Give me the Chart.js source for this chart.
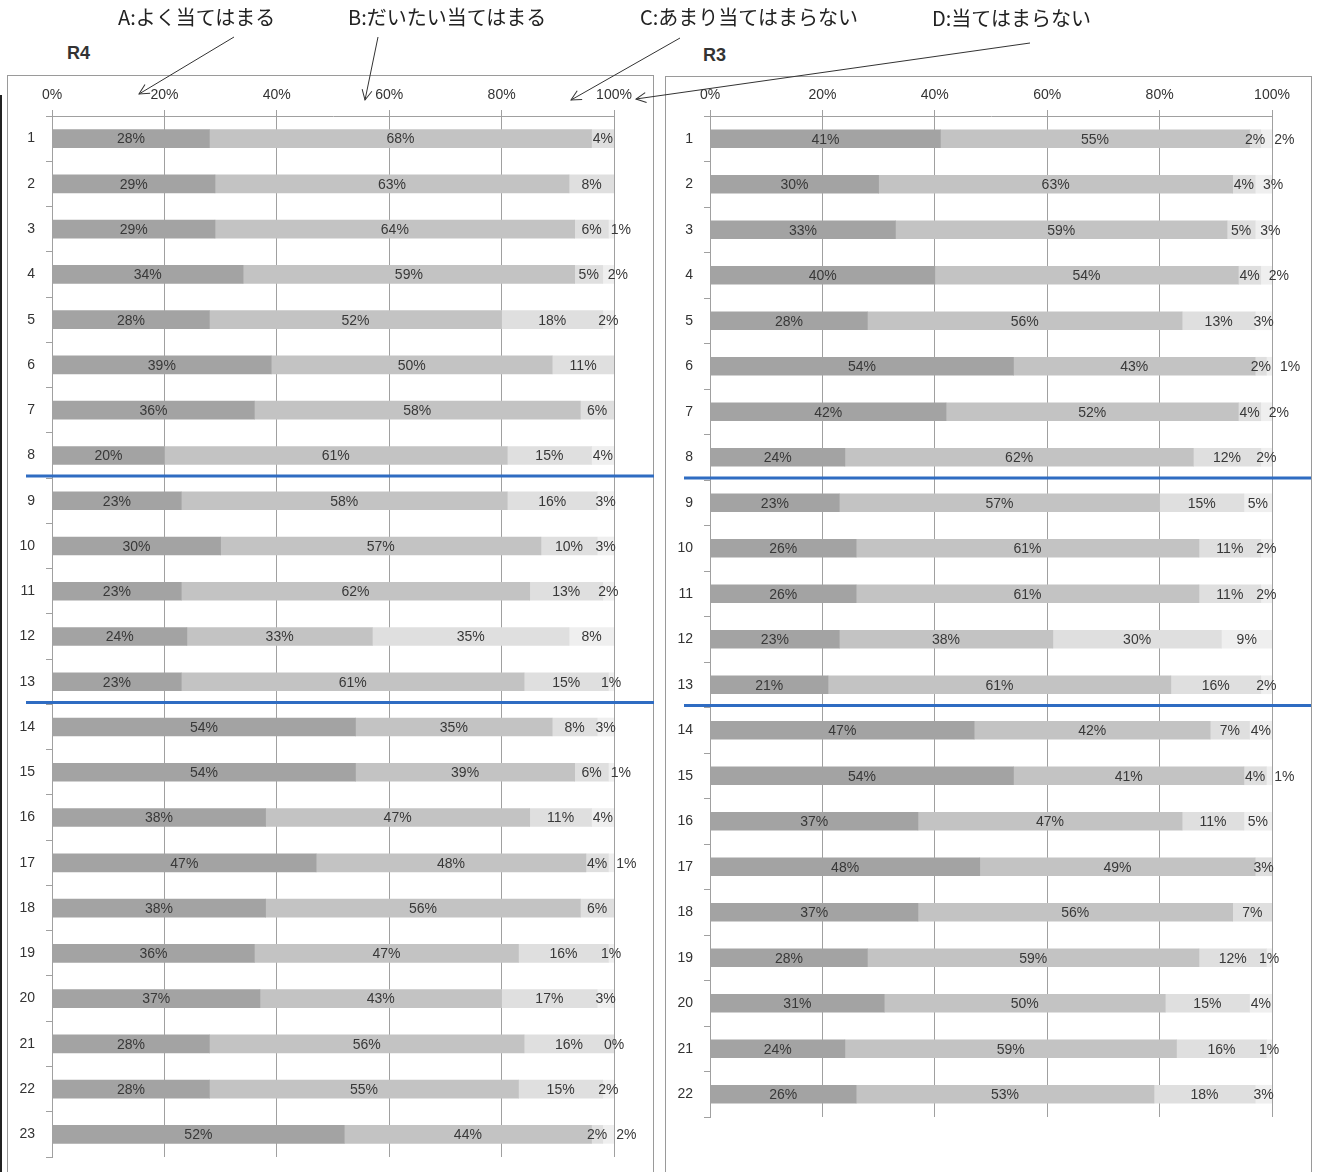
<!DOCTYPE html>
<html>
<head>
<meta charset="utf-8">
<script src="https://cdn.jsdelivr.net/npm/chart.js@4.4.1/dist/chart.umd.min.js"></script>
<style>
  body { margin: 0; background: #fff; width: 1324px; height: 1172px; position: relative; overflow: hidden; }
  .box { position: absolute; border: 1px solid #9a9a9a; }
  canvas { position: absolute; }
  .ttl { position: absolute; font: bold 18px "Liberation Sans", Arial, sans-serif; color: #333; }
  svg { position: absolute; left: 0; top: 0; }
  .edge { position: absolute; left: 0; top: 95px; width: 2px; height: 1077px; background: #222; }
</style>
</head>
<body>
<div class="edge"></div>
<div class="box" style="left:7px;top:75px;width:645px;height:1110px;"></div>
<div class="box" style="left:665px;top:76px;width:645px;height:1110px;"></div>
<div class="ttl" style="left:67px;top:43px;">R4</div>
<div class="ttl" style="left:703px;top:45px;">R3</div>
<canvas id="r4" width="652" height="1097" style="left:7px;top:75px;"></canvas>
<canvas id="r3" width="646" height="1097" style="left:665px;top:75px;"></canvas>

<svg width="1324" height="140" id="notes">
  <defs>
    <marker id="ah" markerWidth="12" markerHeight="12" refX="11" refY="6" orient="auto" markerUnits="userSpaceOnUse">
      <path d="M1,1 L11,6 L1,11" fill="none" stroke="#333" stroke-width="1"/>
    </marker>
  </defs>
  <g font-family="Noto Sans CJK JP, sans-serif" font-size="20" fill="#222">
    <text x="118" y="25">A:よく当てはまる</text>
    <text x="348" y="25">B:だいたい当てはまる</text>
    <text x="640" y="25">C:あまり当てはまらない</text>
    <text x="932" y="26">D:当てはまらない</text>
  </g>
  <g stroke="#333" stroke-width="1" fill="none">
    <line x1="234" y1="37" x2="139" y2="94" marker-end="url(#ah)"/>
    <line x1="378" y1="37" x2="365" y2="100" marker-end="url(#ah)"/>
    <line x1="680" y1="38" x2="571" y2="100" marker-end="url(#ah)"/>
    <line x1="1030" y1="43" x2="636" y2="99" marker-end="url(#ah)"/>
  </g>
</svg>

<script>
// R4 (左)
const labelsR4 = ['1','2','3','4','5','6','7','8','9','10','11','12','13','14','15','16','17','18','19','20','21','22','23'];
const r4A = [28, 29, 29, 34, 28, 39, 36, 20, 23, 30, 23, 24, 23, 54, 54, 38, 47, 38, 36, 37, 28, 28, 52];
const r4B = [68, 63, 64, 59, 52, 50, 58, 61, 58, 57, 62, 33, 61, 35, 39, 47, 48, 56, 47, 43, 56, 55, 44];
const r4C = [4, 8, 6, 5, 18, 11, 6, 15, 16, 10, 13, 35, 15, 8, 6, 11, 4, 6, 16, 17, 16, 15, 2];
const r4D = [null, null, 1, 2, 2, null, null, 4, 3, 3, 2, 8, 1, 3, 1, 4, 1, null, 1, 3, 0, 2, 2];

// R3 (右)
const labelsR3 = ['1','2','3','4','5','6','7','8','9','10','11','12','13','14','15','16','17','18','19','20','21','22'];
const r3A = [41, 30, 33, 40, 28, 54, 42, 24, 23, 26, 26, 23, 21, 47, 54, 37, 48, 37, 28, 31, 24, 26];
const r3B = [55, 63, 59, 54, 56, 43, 52, 62, 57, 61, 61, 38, 61, 42, 41, 47, 49, 56, 59, 50, 59, 53];
const r3C = [2, 4, 5, 4, 13, 2, 4, 12, 15, 11, 11, 30, 16, 7, 4, 11, 3, 7, 12, 15, 16, 18];
const r3D = [2, 3, 3, 2, 3, 1, 2, 2, 5, 2, 2, 9, 2, 4, 1, 5, null, null, 1, 4, 1, 3];

const seriesNames = ['A:よく当てはまる', 'B:だいたい当てはまる', 'C:あまり当てはまらない', 'D:当てはまらない'];
const colores = ['#a3a3a3', '#c3c3c3', '#dfdfdf', '#efefef'];
const separadores = [8, 13]; // linea azul despues de estas preguntas

// etiquetas de porcentaje y lineas azules
const etiquetas = {
  id: 'etiquetas',
  afterDatasetsDraw(chart) {
    const ctx = chart.ctx;
    const area = chart.chartArea;
    const ys = chart.scales.y;
    ctx.save();
    ctx.font = '14px "Liberation Sans", Arial, sans-serif';
    ctx.fillStyle = '#383838';
    ctx.textAlign = 'center';
    ctx.textBaseline = 'middle';
    for (let i = 0; i < chart.data.labels.length; i++) {
      let ultimo = -Infinity;
      chart.data.datasets.forEach((ds, di) => {
        const v = ds.data[i];
        if (v === null || v === undefined) return;
        const bar = chart.getDatasetMeta(di).data[i];
        const txt = v + '%';
        const w = ctx.measureText(txt).width;
        let x = (bar.base + bar.x) / 2;
        if (x - w / 2 < ultimo + 9) x = ultimo + 9 + w / 2;
        ctx.fillText(txt, x, bar.y + 1);
        ultimo = x + w / 2;
      });
    }
    ctx.strokeStyle = '#2f6cc2';
    ctx.lineWidth = 3;
    separadores.forEach(q => {
      const y = (ys.getPixelForValue(q - 1) + ys.getPixelForValue(q)) / 2 - 2;
      ctx.beginPath();
      ctx.moveTo(area.left - 26, y);
      ctx.lineTo(area.right + 40, y);
      ctx.stroke();
    });
    ctx.restore();
  }
};

const criarGrafico = (id, labels, a, b, c, d, padRight, padBottom) => new Chart(document.getElementById(id), {
  type: 'bar',
  data: {
    labels: labels,
    datasets: [a, b, c, d].map((serie, k) => ({
      label: seriesNames[k],
      data: serie,
      backgroundColor: colores[k],
      borderWidth: 0,
      barThickness: 18
    }))
  },
  options: {
    indexAxis: 'y',
    responsive: false,
    animation: false,
    layout: { padding: { left: 0, right: padRight, top: 0, bottom: padBottom } },
    plugins: { legend: { display: false }, tooltip: { enabled: false } },
    scales: {
      x: {
        position: 'top',
        stacked: true,
        min: 0,
        max: 100,
        afterFit: s => { s.height = 41; },
        ticks: {
          stepSize: 20,
          padding: 6,
          color: '#333',
          font: { family: '"Liberation Sans", Arial, sans-serif', size: 14 },
          callback: v => v + '%'
        },
        grid: { color: '#a0a0a0', tickLength: 6 },
        border: { color: '#a0a0a0' }
      },
      y: {
        stacked: true,
        afterFit: s => { s.width = 45; s.paddingTop = 0; s.paddingBottom = 0; },
        ticks: {
          padding: 11,
          color: '#333',
          font: { family: '"Liberation Sans", Arial, sans-serif', size: 14 }
        },
        grid: { drawOnChartArea: false, color: '#a0a0a0', tickLength: 6 },
        border: { color: '#a0a0a0' }
      }
    }
  },
  plugins: [etiquetas]
});

criarGrafico('r4', labelsR4, r4A, r4B, r4C, r4D, 45, 15);
criarGrafico('r3', labelsR3, r3A, r3B, r3C, r3D, 39, 55);
</script>
</body>
</html>
